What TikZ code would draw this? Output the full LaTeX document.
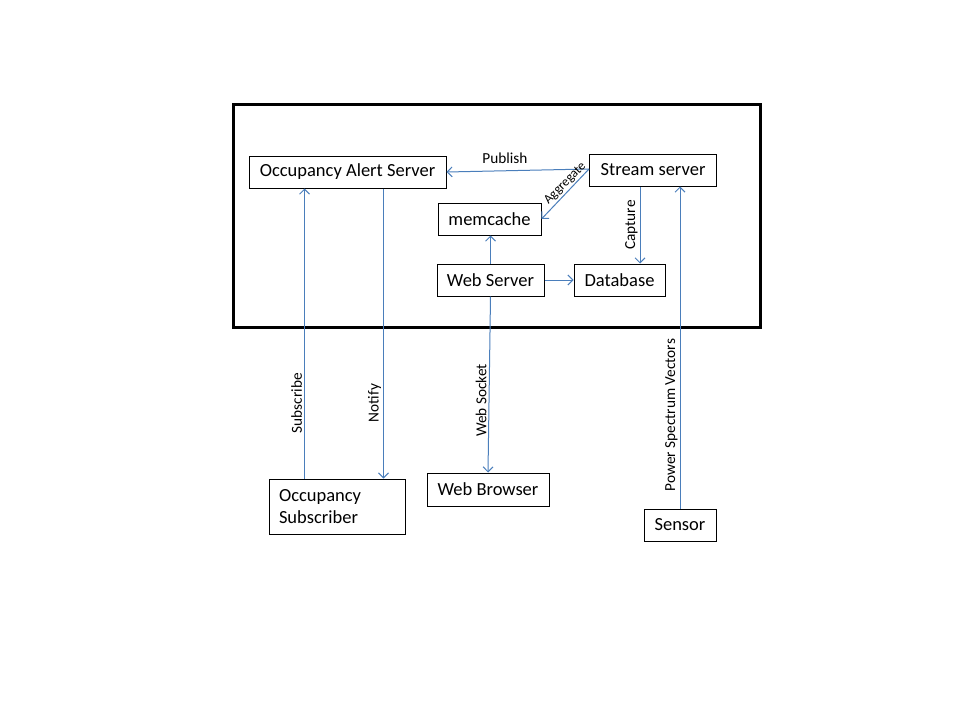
\documentclass[tikz,border=0pt]{standalone}
\usepackage{fontspec}
\setmainfont{Carlito}
\usetikzlibrary{arrows.meta,positioning,calc}
\definecolor{arrblue}{HTML}{4A7EBB}
\tikzset{
  box/.style={draw=black, line width=1pt, rectangle, inner sep=0pt, font=\fontsize{18.5}{22}\selectfont},
  arr/.style={draw=arrblue, line width=1pt, -{Straight Barb[length=5pt,width=10pt]}},
  lbl/.style={font=\fontsize{15.3}{18}\selectfont, inner sep=2pt},
  frame/.style={draw=black, line width=3pt}
}
\begin{document}
\begin{tikzpicture}[x=1pt,y=-1pt]
\useasboundingbox (0,0) rectangle (960,720);
\draw[frame] (233.5,104) rectangle (760,327);

\node[box, minimum width=197pt, minimum height=32pt] (oas) at (347.5,172) {Occupancy Alert Server};
\node[box, minimum width=127pt, minimum height=32pt] (stream) at (653,170) {Stream server};
\node[box, minimum width=103pt, minimum height=32pt] (memcache) at (489.5,219) {memcache};
\node[box, minimum width=107pt, minimum height=32pt] (websrv) at (490.5,280) {Web Server};
\node[box, minimum width=91pt, minimum height=32pt] (db) at (619.5,280) {Database};
\node[box, minimum width=136pt, minimum height=55pt, text width=116pt, inner xsep=10pt, align=left] (occsub) at (337,506.5) {Occupancy\\Subscriber};
\node[box, minimum width=122pt, minimum height=33pt] (browser) at (488,489.5) {Web Browser};
\node[box, minimum width=72pt, minimum height=32pt] (sensor) at (680,525) {Sensor};

% Publish
\draw[arr] ([yshift=1pt]stream.west) -- node[lbl, pos=0.59, above=5pt] {Publish} (oas.east);
% Aggregate
\draw[arr] ([yshift=1pt]stream.west) -- (memcache.east);
\node[rotate=45, anchor=center, inner sep=0pt, font=\fontsize{13}{15}\selectfont] (agg) at ($($(stream.west)!0.5!(memcache.east)$)+(0,-11)$) {Aggregate};
% Capture
\draw[arr] ([xshift=-13pt]stream.south) -- node[lbl, midway, rotate=90, anchor=south] {Capture} ([xshift=-13pt]stream.south |- db.north);
% Web server to memcache
\draw[arr] (websrv.north) -- (websrv.north |- memcache.south);
% Web server to database
\draw[arr] (websrv.east) -- (db.west);
% Web socket
\draw[arr] (websrv.south) -- node[lbl, pos=0.59, rotate=90, anchor=south] {Web Socket} (browser.north);
% Sensor to stream
\draw[arr] (sensor.north) -- node[lbl, pos=0.29, rotate=90, anchor=south] {Power Spectrum Vectors} (sensor.north |- stream.south);
% Subscribe
\draw[arr] ([xshift=36pt]occsub.north west) -- node[lbl, pos=0.26, rotate=90, anchor=south] {Subscribe} ([xshift=36pt]occsub.north west |- oas.south);
% Notify
\draw[arr] ([xshift=115pt]occsub.north west |- oas.south) -- node[lbl, pos=0.74, rotate=90, anchor=south] {Notify} ([xshift=115pt]occsub.north west);
\end{tikzpicture}
\end{document}
